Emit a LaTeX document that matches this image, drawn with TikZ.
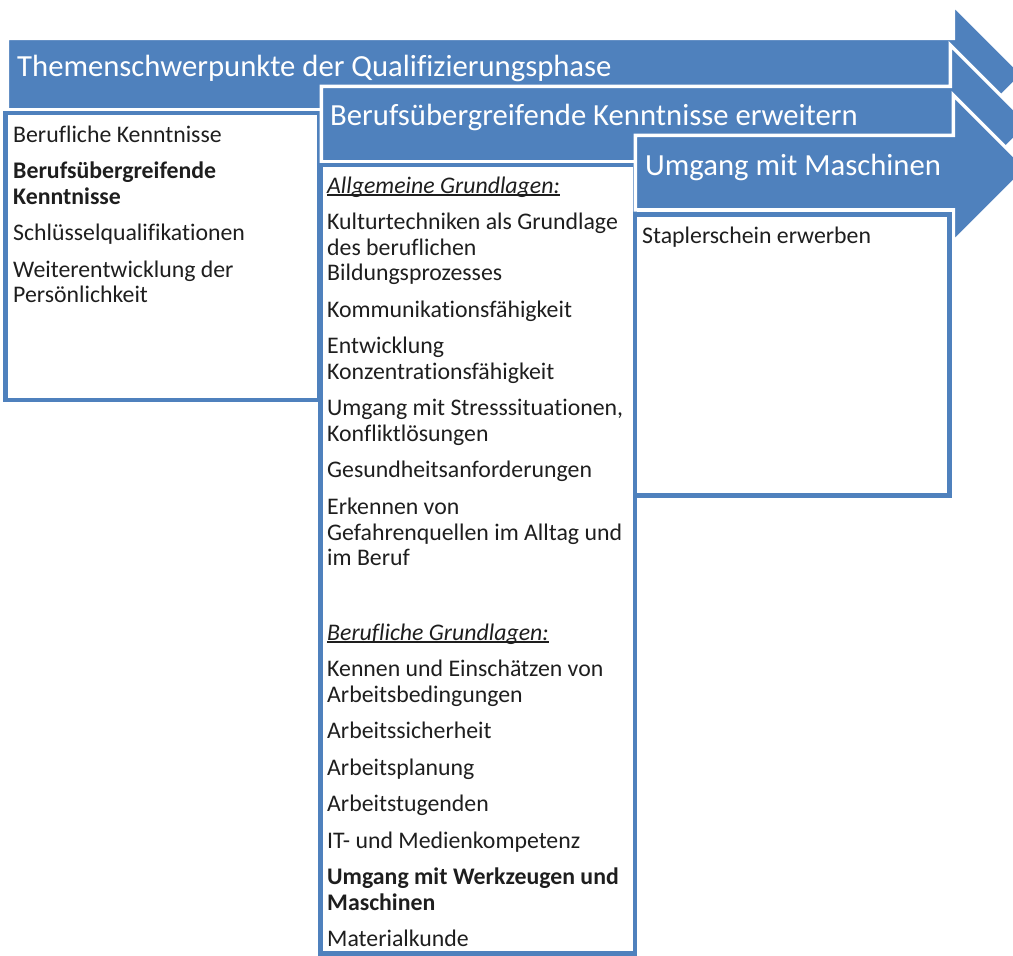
\documentclass[tikz,border=0pt]{standalone}
\usepackage{fontspec}
\setmainfont{Carlito}[Ligatures={NoCommon}]
\definecolor{accent}{HTML}{4F81BD}
\definecolor{ink}{HTML}{1E1E1E}

% underline that runs through the descenders, as in the word-processor original
\newcommand{\grundul}[1]{\setbox0\hbox{#1}\rlap{\rule[-2.6pt]{\wd0}{1.2pt}}\box0}

\tikzset{
  chevron/.style={fill=accent, draw=white, line width=3.5pt, line join=miter},
  panel/.style={draw=accent, line width=4.5pt},
  headline/.style={anchor=base west, inner sep=0pt, text=white,
    font=\fontsize{30.7}{36}\selectfont},
  entry/.style={anchor=base west, inner sep=0pt, text=ink, text width=#1,
    align=flush left, font=\fontsize{23.8}{25.6}\selectfont,
    execute at begin node={\setlength{\parskip}{10.9pt}}},
  entry/.default=330pt,
}

\begin{document}
\begin{tikzpicture}[x=1pt, y=-1pt]
  \useasboundingbox (0,0) rectangle (1013,956);
  \clip (0,0) rectangle (1013,956);

  % first chevron and its panel
  \path[chevron] (7.25,38.25) -- (953.25,38.25) -- (953.25,5) -- (1022.75,74.5)
    -- (953.25,144) -- (953.25,109.75) -- (7.25,109.75) -- cycle;
  \node[headline] (t1) at (17,76) {Themenschwerpunkte der Qualifizierungsphase};
  \draw[panel] (5.5,113) rectangle (319.5,400);

  % second chevron and its panel
  \path[chevron] (321.25,86.25) -- (950.25,86.25) -- (950.25,45) -- (1029.25,124)
    -- (950.25,203) -- (950.25,161.75) -- (321.25,161.75) -- cycle;
  \node[headline] (t2) at (330,125) {Berufsübergreifende Kenntnisse erweitern};
  \draw[panel] (320.5,165) rectangle (635,953.5);

  % third chevron and its panel
  \path[chevron] (635.25,135.25) -- (953.25,135.25) -- (953.25,95) -- (1026.75,168.5)
    -- (953.25,242) -- (953.25,209.75) -- (635.25,209.75) -- cycle;
  \node[headline] (t3) at (645,175) {Umgang mit Maschinen};
  \draw[panel] (635,214.5) rectangle (949.5,495.5);

  % panel contents
  \node[entry] (kenntnisse) at (13,142) {Berufliche Kenntnisse\par
    \textbf{Berufsübergreifende\\Kenntnisse}\par
    Schlüsselqualifikationen\par
    Weiterentwicklung der\\Persönlichkeit};

  \node[entry] (allgemein) at (327,193) {\grundul{\textit{Allgemeine Grundlagen:}}\par
    Kulturtechniken als Grundlage\\des beruflichen\\Bildungsprozesses\par
    Kommunikationsfähigkeit\par
    Entwicklung\\Konzentrationsfähigkeit\par
    Umgang mit Stresssituationen,\\Konfliktlösungen\par
    Gesundheitsanforderungen\par
    Erkennen von\\Gefahrenquellen im Alltag und\\im Beruf};

  \node[entry] (beruflich) at (327,640) {\grundul{\textit{Berufliche Grundlagen:}}\par
    Kennen und Einschätzen von\\Arbeitsbedingungen\par
    Arbeitssicherheit\par
    Arbeitsplanung\par
    Arbeitstugenden\par
    IT- und Medienkompetenz\par
    \textbf{Umgang mit Werkzeugen und\\Maschinen}\par
    Materialkunde};

  \node[entry] (stapler) at (642,243) {Staplerschein erwerben};
\end{tikzpicture}
\end{document}
